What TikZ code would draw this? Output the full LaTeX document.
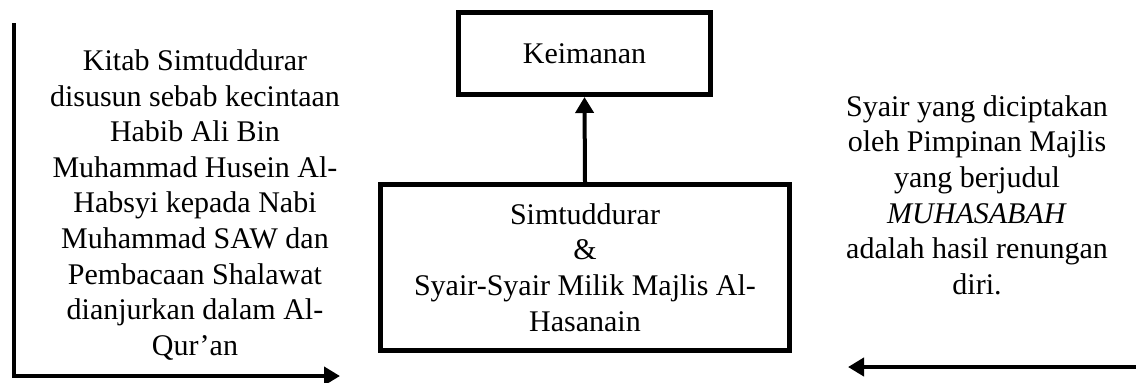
\documentclass[tikz,border=0pt]{standalone}
\usepackage{fontspec}
\setmainfont{Liberation Serif}
\usetikzlibrary{positioning,arrows.meta}

\begin{document}
\begin{tikzpicture}[x=0.5pt,y=-0.5pt,
    teks/.style={align=center, font=\fontsize{15}{17.8}\selectfont},
    kotak/.style={teks, draw, line width=2.5pt, inner sep=0pt},
    panah/.style={line width=2pt, -{Triangle[length=8pt,width=9pt]}}]
    \useasboundingbox (0,0) rectangle (1136,382);

    % Kotak tengah
    \node[kotak, minimum width=126pt, minimum height=41pt] (iman) at (584.5,53.5) {Keimanan};
    \node[kotak, minimum width=204.5pt, minimum height=83pt] (isi) at (585,267.5)
        {Simtuddurar\\ \&\\ Syair-Syair Milik Majlis Al-\\ Hasanain};
    \draw[panah] (isi.north) -- (iman.south);

    % Teks kiri
    \node[teks] (kitab) at (195,205) {Kitab Simtuddurar\\ disusun sebab kecintaan\\ Habib Ali Bin\\
        Muhammad Husein Al-\\ Habsyi kepada Nabi\\ Muhammad SAW dan\\ Pembacaan Shalawat\\
        dianjurkan dalam Al-\\ Qur’an};
    \coordinate (kiriatas) at (14,23);
    \coordinate (kiribawah) at (14,376);
    \coordinate (kiriujung) at (340,376);
    \draw[panah] (kiriatas) -- (kiribawah) -- (kiriujung);

    % Teks kanan
    \node[teks] (syair) at (977,195) {Syair yang diciptakan\\ oleh Pimpinan Majlis\\ yang berjudul\\
        \textit{MUHASABAH}\\ adalah hasil renungan\\ diri.};
    \coordinate (kananawal) at (1136,367);
    \coordinate (kananujung) at (848,367);
    \draw[panah] (kananawal) -- (kananujung);
\end{tikzpicture}
\end{document}
